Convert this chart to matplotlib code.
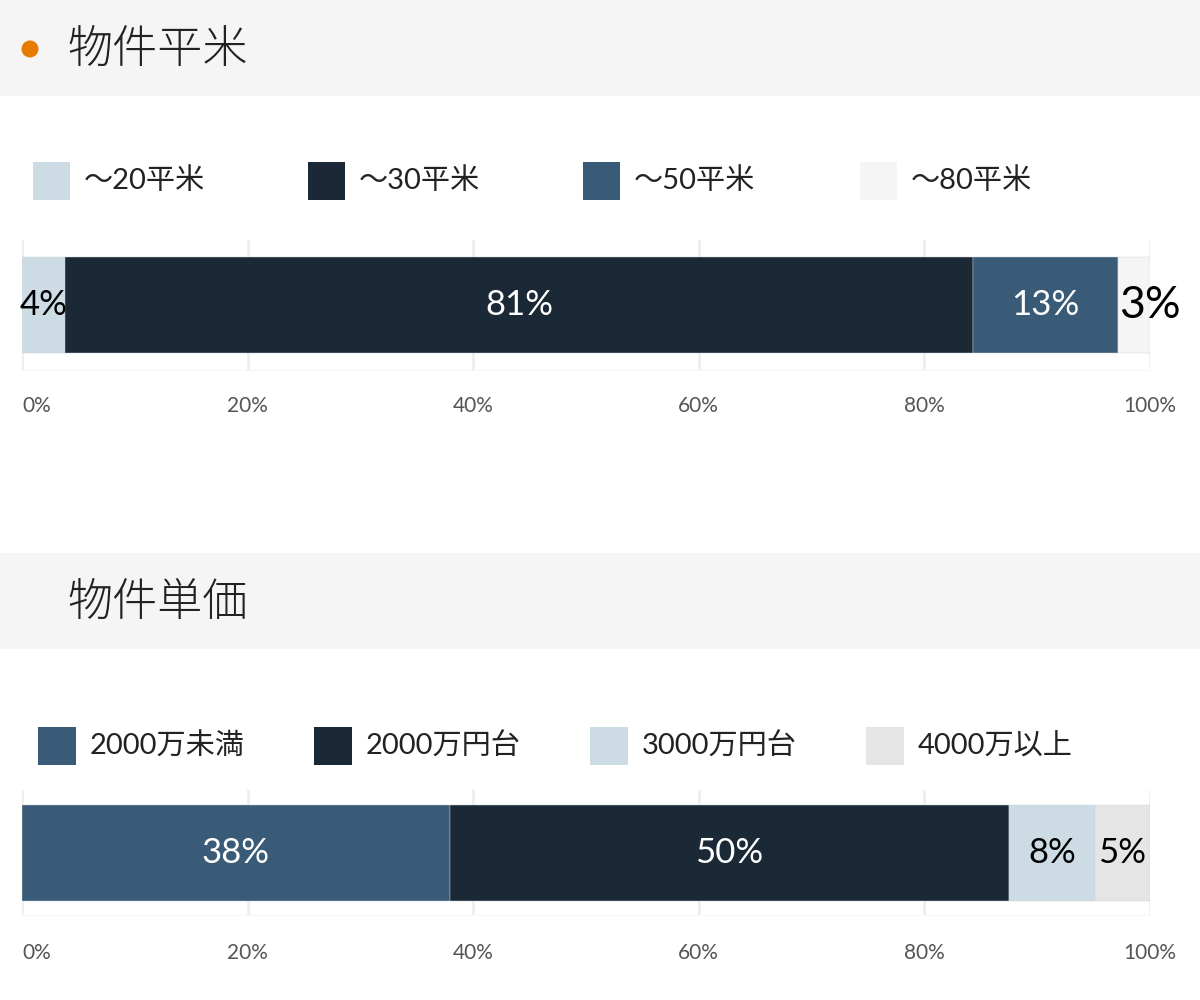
import matplotlib.pyplot as plt
from matplotlib.patches import Rectangle, Ellipse

plt.rcParams['font.family'] = ['Lato', 'Noto Sans CJK JP', 'DejaVu Sans']

# =========================
# データ
# =========================
title_area = "物件平米"
area_labels = ["～20平米", "～30平米", "～50平米", "～80平米"]
area_values = [3.8, 80.5, 12.9, 2.8]
area_texts = ["4%", "81%", "13%", "3%"]
area_colors = ["#cddbe5", "#1b2836", "#3a5b78", "#f5f5f5"]
area_text_colors = ["black", "white", "white", "black"]
area_text_sizes = [25, 25, 25, 32]
area_text_align = ["center", "center", "center", "left"]

title_price = "物件単価"
price_labels = ["2000万未満", "2000万円台", "3000万円台", "4000万以上"]
price_values = [37.9, 49.6, 7.6, 4.9]
price_texts = ["38%", "50%", "8%", "5%"]
price_colors = ["#3a5b78", "#1b2836", "#cddbe5", "#e5e5e5"]
price_text_colors = ["white", "white", "black", "black"]
price_text_sizes = [25, 25, 25, 25]
price_text_align = ["center", "center", "center", "center"]

ticks = [0, 20, 40, 60, 80, 100]

W, H = 1200, 1000
fig = plt.figure(figsize=(12, 10), dpi=100)
fig.patch.set_facecolor("white")


def fx(x):
    return x / W


def fy(y):
    return 1 - y / H


# =========================
# 見出し帯
# =========================
def header(y_top, text, dot):
    fig.add_artist(Rectangle((0, fy(y_top + 96)), 1, 96 / H, transform=fig.transFigure,
                             facecolor="#f5f5f5", edgecolor="none", zorder=0))
    if dot:
        fig.add_artist(Ellipse((fx(30), fy(y_top + 49)), 17 / W, 17 / H,
                               transform=fig.transFigure,
                               facecolor="#e57c00", edgecolor="none"))
    fig.text(fx(67), fy(y_top + 50), text, fontsize=32.5, color="#222222",
             ha="left", va="center", family=['Noto Sans CJK JP'], fontweight="light")


# =========================
# 凡例
# =========================
def legend(xs, y_center, size, labels, colors):
    for x, lab, col in zip(xs, labels, colors):
        fig.add_artist(Rectangle((fx(x), fy(y_center + size / 2)), size / W, size / H,
                                 transform=fig.transFigure, facecolor=col, edgecolor="none"))
        fig.text(fx(x + size + 14), fy(y_center), lab, fontsize=21, color="#222222",
                 ha="left", va="center")


# =========================
# 積み上げ横棒
# =========================
def stacked(y_top, y_bottom, bar_center, values, colors, texts, tcolors, tsizes, aligns, pad):
    ax = fig.add_axes([fx(22), fy(y_bottom), (1150 - 22) / W, (y_bottom - y_top) / H])
    left = 0
    for v, c, t, tc, ts, al in zip(values, colors, texts, tcolors, tsizes, aligns):
        ax.barh(0, v, left=left, height=1.0, color=c, edgecolor="#c9d2dc",
                linewidth=0.3, zorder=3)
        x = left + v / 2 if al == "center" else left + 0.1
        ax.text(x, 0, t, color=tc, fontsize=ts, ha=al, va="center", zorder=4)
        left += v
    ax.set_xlim(0, 100)
    ax.set_ylim(-(y_bottom - bar_center) / 96, (bar_center - y_top) / 96)
    ax.set_xticks(ticks)
    ax.set_xticklabels([f"{t}%" for t in ticks], fontsize=15, color="#555555")
    ax.get_xticklabels()[0].set_horizontalalignment("left")
    ax.tick_params(axis="x", length=0, pad=pad)
    ax.set_yticks([])
    ax.grid(axis="x", color="#eeeeee", linewidth=2, zorder=0)
    for s in ["top", "left", "right"]:
        ax.spines[s].set_visible(False)
    ax.spines["bottom"].set_color("#f7f7f7")
    ax.set_facecolor("white")
    return ax


header(0, title_area, True)
legend([33, 308, 583, 860], 181, 37, area_labels, area_colors)
stacked(240, 370, 305, area_values, area_colors, area_texts,
        area_text_colors, area_text_sizes, area_text_align, 19)

header(553, title_price, False)
legend([38, 314, 590, 866], 746, 38, price_labels, price_colors)
stacked(790, 915, 853, price_values, price_colors, price_texts,
        price_text_colors, price_text_sizes, price_text_align, 20)

plt.savefig("out.png", dpi=100)
